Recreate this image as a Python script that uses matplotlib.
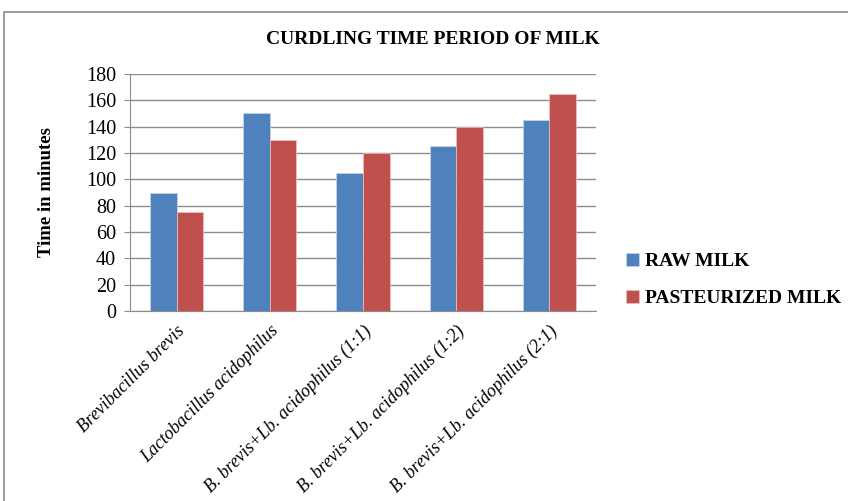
import numpy as np
import matplotlib
matplotlib.use('Agg')
import matplotlib.pyplot as plt
from matplotlib.patches import Rectangle

categories = [
    'Brevibacillus brevis',
    'Lactobacillus acidophilus',
    'B. brevis+Lb. acidophilus (1:1)',
    'B. brevis+Lb. acidophilus (1:2)',
    'B. brevis+Lb. acidophilus (2:1)',
]
raw_milk = [90, 150, 105, 125, 145]
pasteurized_milk = [75, 130, 120, 140, 165]
y_ticks = [0, 20, 40, 60, 80, 100, 120, 140, 160, 180]

plt.rcParams['font.family'] = ['Liberation Serif', 'DejaVu Serif']

fig = plt.figure(figsize=(8.48, 5.01), dpi=100)
# outer frame of the chart area
fig.patches.append(Rectangle((4 / 848, -0.1), 1.2, 1 - 12 / 501 + 0.1,
                             transform=fig.transFigure, fill=False,
                             edgecolor='#8c8c8c', lw=1.2))

ax = fig.add_axes([130 / 848, 1 - 311 / 501, 466 / 848, 237 / 501])

x = np.arange(len(categories))
w = 0.286
ax.bar(x - w / 2, raw_milk, w, color='#4F81BD', edgecolor='#c9d6ea', lw=0.5,
       label='RAW MILK', zorder=3)
ax.bar(x + w / 2, pasteurized_milk, w, color='#C0504D', edgecolor='#ecc5c4', lw=0.5,
       label='PASTEURIZED MILK', zorder=3)

ax.set_xlim(-0.5, len(categories) - 0.5)
ax.set_ylim(0, 180)
ax.set_yticks(y_ticks)
ax.tick_params(axis='y', labelsize=14.5, length=4, color='#8c8c8c', pad=6)
ax.tick_params(axis='x', length=0, pad=8)
ax.yaxis.grid(True, color='#8c8c8c', lw=1.0, zorder=0)
ax.set_axisbelow(True)
for s in ['top', 'right']:
    ax.spines[s].set_visible(False)
ax.spines['left'].set_color('#8c8c8c')
ax.spines['bottom'].set_color('#8c8c8c')

ax.set_xticks(x)
ax.set_xticklabels(categories, rotation=45, ha='right', rotation_mode='anchor',
                   fontsize=13, style='italic')
ax.set_ylabel('Time in minutes', fontsize=13.5, fontweight='bold', labelpad=22)

fig.text(433 / 848, 1 - 40 / 501, 'CURDLING TIME PERIOD OF MILK',
         ha='center', va='center', fontsize=14, fontweight='bold')

fig.legend(loc='center left', bbox_to_anchor=(608 / 848, 1 - 280 / 501),
           frameon=False, prop={'size': 14, 'weight': 'bold'},
           handlelength=0.7, handleheight=0.7, handletextpad=0.3,
           labelspacing=1.0)

fig.savefig('out.png', dpi=100)
